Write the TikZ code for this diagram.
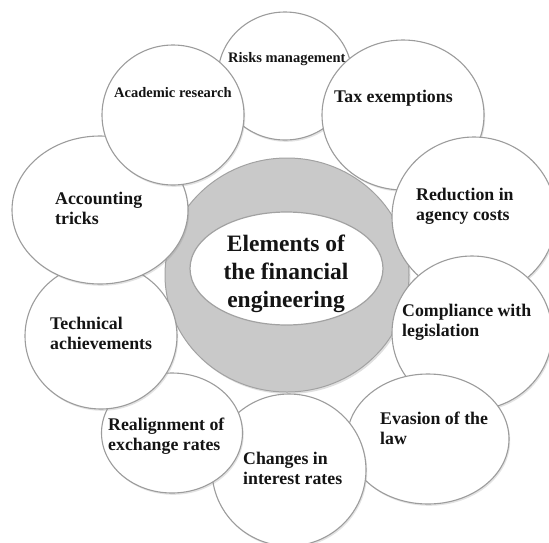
\documentclass[tikz,border=0pt]{standalone}
\usepackage{fontspec}
\setmainfont{Liberation Serif}
\usetikzlibrary{shapes.geometric,shadows}
\definecolor{bubbleline}{HTML}{9C9C9C}
\definecolor{ringgray}{HTML}{C9C9C9}
\definecolor{ringline}{HTML}{A2A2A2}
\definecolor{labelink}{HTML}{141414}
\newcommand{\lblfont}{\bfseries\fontsize{17.8}{20}\selectfont}
\newcommand{\lblfontsm}{\bfseries\fontsize{14.5}{18}\selectfont}
\newcommand{\corefont}{\bfseries\fontsize{23.5}{28}\selectfont}

\begin{document}
\begin{tikzpicture}[x=1pt, y=-1pt,
  bubble/.style={ellipse, draw=bubbleline, line width=1.1pt, fill=white, inner sep=0pt,
    drop shadow={opacity=0.22, shadow xshift=1.2pt, shadow yshift=-1.8pt}},
  lbl/.style={anchor=north west, align=left, inner sep=0pt, text=labelink, font=\lblfont}]

  \useasboundingbox (0,0) rectangle (549,542);

  % grey ring and white core in the middle
  \node[ellipse, draw=ringline, line width=1pt, fill=ringgray, minimum width=244, minimum height=234,
    drop shadow={opacity=0.25, shadow xshift=1.5pt, shadow yshift=-2pt}] (ring) at (287,275) {};
  \node[ellipse, draw=ringline, line width=1.2pt, fill=white, minimum width=193, minimum height=113] (core) at (286.5,268.5) {};

  % the bubbles, clockwise from the top, each one over the last
  \node[bubble, minimum width=134, minimum height=128] (risk) at (285,76) {};
  \node[bubble, minimum width=162, minimum height=150] (tax) at (403,115) {};
  \node[bubble, minimum width=164, minimum height=160] (reduc) at (474,217) {};
  \node[bubble, minimum width=160, minimum height=154] (compl) at (472,333) {};
  \node[bubble, minimum width=162, minimum height=130] (evas) at (428,439) {};
  \node[bubble, minimum width=154, minimum height=152] (chang) at (289,470) {};
  \node[bubble, minimum width=141, minimum height=120] (realn) at (172,433) {};
  \node[bubble, minimum width=152, minimum height=146] (techn) at (101,336) {};
  \node[bubble, minimum width=176, minimum height=148] (acct) at (100,210) {};
  \node[bubble, minimum width=142, minimum height=140] (acad) at (173,115) {};

  % labels
  \node[lbl, align=center, anchor=north, font=\corefont] (core-t) at (286,235) {Elements of\\the financial\\engineering};
  \node[lbl, font=\lblfontsm] (risk-t) at (228,52) {Risks management};
  \node[lbl, font=\lblfontsm] (acad-t) at (114,87) {Academic research};
  \node[lbl] (tax-t) at (334,90) {Tax exemptions};
  \node[lbl] (reduc-t) at (416,188) {Reduction in\\agency costs};
  \node[lbl] (acct-t) at (55,192) {Accounting\\tricks};
  \node[lbl] (compl-t) at (402,304) {Compliance with\\legislation};
  \node[lbl] (techn-t) at (50,317) {Technical\\achievements};
  \node[lbl] (realn-t) at (108,418) {Realignment of\\exchange rates};
  \node[lbl] (chang-t) at (243,452) {Changes in\\interest rates};
  \node[lbl] (evas-t) at (380,412) {Evasion of the\\law};

\end{tikzpicture}
\end{document}
